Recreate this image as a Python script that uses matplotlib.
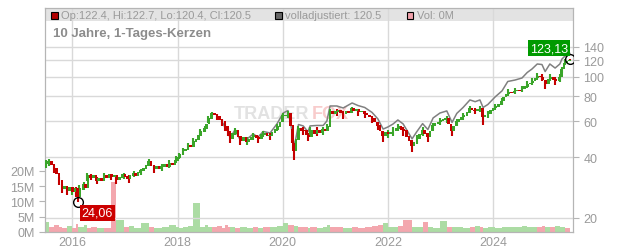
import numpy as np
import matplotlib.pyplot as plt
from matplotlib.patches import Rectangle

plt.rcParams['font.family'] = ['Liberation Sans', 'DejaVu Sans']

# Schlusskurse im Abstand von ca. 2,5 Wochen (ab 2015.50, Schritt 0.05 Jahre)
t0, step = 2015.50, 0.05
closes = [37.0, 38.0, 36.5, 34.9, 33.0, 30.5, 27.8, 28.5, 27.2, 27.9,
          27.0, 27.8, 25.3, 27.6, 28.9, 28.2, 32.3, 31.5, 32.2, 30.6,
          31.2, 30.6, 32.3, 31.5, 32.4, 31.9, 32.2, 30.9, 31.6, 32.5,
          31.8, 31.2, 32.2, 33.0, 32.4, 33.2, 34.0, 34.8, 36.0, 37.8,
          36.2, 34.9, 35.6, 34.8, 35.7, 36.4, 35.9, 37.0, 36.5, 38.4,
          39.6, 40.8, 42.9, 43.6, 45.4, 45.0, 47.5, 48.6, 51.0, 53.2,
          55.0, 58.0, 61.7, 65.3, 64.5, 63.1, 61.0, 59.6, 56.3, 53.5,
          49.1, 52.0, 53.8, 50.5, 48.0, 49.6, 47.6, 48.8, 50.0, 50.8,
          49.8, 49.1, 51.4, 52.0, 50.6, 50.8, 52.8, 54.5, 56.3, 59.5,
          63.8, 64.2, 65.3, 57.0, 43.0, 48.5, 55.0, 54.0, 53.8, 51.2,
          50.3, 53.8, 52.2, 53.8, 52.6, 54.4, 53.8, 56.3, 66.8, 65.4,
          66.8, 67.6, 66.0, 65.3, 67.2, 66.0, 69.1, 67.6, 68.4, 66.8,
          67.4, 65.3, 64.4, 63.0, 61.7, 59.5, 57.0, 53.5, 50.8, 52.6,
          52.0, 53.0, 53.8, 55.2, 56.3, 54.6, 53.8, 50.5, 48.0, 45.4,
          47.0, 49.1, 51.6, 53.8, 52.0, 50.3, 53.5, 57.0, 58.2, 59.5,
          60.3, 61.0, 61.7, 58.0, 54.0, 56.8, 59.6, 61.0, 63.0, 63.8,
          66.0, 69.1, 68.0, 67.8, 68.6, 69.1, 63.1, 64.4, 65.3, 67.6,
          69.5, 70.7, 72.5, 75.7, 78.8, 82.0, 83.9, 83.0, 84.8, 85.6,
          84.9, 86.8, 89.0, 91.9, 93.0, 95.0, 97.8, 100.6, 99.5, 96.0,
          91.9, 97.0, 99.5, 96.5, 95.0, 99.5, 108.9, 116.0, 119.0, 120.5]
first_open = 36.0

# Tages-Spannen (Dochte) an einzelnen Stichtagen
wick_dates = [2015.50, 2015.56, 2015.65, 2015.75, 2015.80, 2015.90, 2015.99, 2016.07, 2016.11, 2016.13,
              2016.22, 2016.28, 2016.36, 2016.47, 2016.60, 2016.74, 2016.83, 2016.98, 2017.08, 2017.17,
              2017.31, 2017.46, 2017.55, 2017.71, 2017.84, 2017.97, 2018.03, 2018.10, 2018.20, 2018.29,
              2018.43, 2018.52, 2018.58, 2018.66, 2018.75, 2018.85, 2018.90, 2018.96, 2019.00, 2019.09,
              2019.19, 2019.32, 2019.44, 2019.53, 2019.63, 2019.76, 2019.89, 2020.01, 2020.10, 2020.18,
              2020.22, 2020.30, 2020.39, 2020.48, 2020.52, 2020.65, 2020.77, 2020.84, 2020.90, 2021.03,
              2021.15, 2021.32, 2021.43, 2021.56, 2021.70, 2021.81, 2021.91, 2022.00, 2022.10, 2022.19,
              2022.29, 2022.46, 2022.55, 2022.66, 2022.76, 2022.86, 2022.99, 2023.12, 2023.22, 2023.31,
              2023.43, 2023.56, 2023.66, 2023.75, 2023.81, 2023.90, 2024.04, 2024.17, 2024.28, 2024.42,
              2024.55, 2024.65, 2024.74, 2024.84, 2024.93, 2024.99, 2025.08, 2025.18, 2025.27, 2025.31,
              2025.37, 2025.46]
low = [35.5, 36.0, 33.5, 29.0, 26.5, 26.0, 26.0, 25.5, 24.06, 26.5,
       27.5, 30.5, 30.8, 29.5, 31.0, 30.8, 29.5, 31.0, 29.8, 31.8,
       32.5, 36.0, 33.5, 34.2, 35.5, 37.5, 39.0, 41.0, 43.5, 45.5,
       51.0, 53.0, 59.0, 63.0, 61.0, 57.0, 54.0, 51.0, 47.0, 51.5,
       46.0, 46.0, 48.5, 47.0, 50.0, 48.5, 54.0, 61.0, 62.5, 47.0,
       38.5, 52.0, 51.5, 48.0, 51.5, 51.0, 51.5, 53.5, 63.5, 64.0,
       62.0, 66.0, 64.0, 62.5, 59.0, 54.5, 47.5, 49.5, 51.0, 53.5,
       51.0, 42.4, 46.5, 51.0, 47.5, 54.0, 57.5, 59.0, 51.0, 57.0,
       61.0, 66.5, 65.0, 66.5, 57.5, 62.5, 68.0, 72.5, 80.5, 81.5,
       83.5, 88.0, 91.0, 96.5, 95.0, 87.0, 95.0, 90.5, 94.0, 104.0,
       114.0, 120.4]
high = [38.5, 39.0, 36.5, 32.0, 29.5, 28.5, 28.6, 28.3, 27.0, 29.0,
        30.0, 33.5, 33.0, 31.8, 33.5, 33.0, 32.5, 33.5, 32.5, 34.2,
        35.0, 39.0, 36.5, 37.0, 38.5, 40.5, 42.0, 44.5, 47.0, 49.5,
        55.0, 57.0, 63.5, 67.0, 65.0, 61.5, 58.5, 55.5, 51.5, 55.5,
        50.0, 50.0, 52.5, 51.0, 54.0, 52.5, 58.0, 66.0, 67.5, 55.0,
        47.0, 57.0, 56.0, 52.5, 56.5, 56.0, 56.0, 58.5, 69.0, 69.0,
        67.5, 71.0, 69.0, 67.5, 64.0, 59.5, 53.5, 54.5, 56.0, 58.5,
        56.0, 48.0, 51.5, 56.0, 52.5, 59.0, 62.5, 64.0, 57.0, 62.0,
        66.0, 71.5, 70.0, 71.5, 65.5, 67.5, 73.0, 78.0, 86.5, 87.5,
        89.5, 95.0, 98.5, 103.5, 102.5, 95.0, 102.5, 99.0, 103.0, 112.0,
        122.7, 122.7]
wick_up = [1, 1, 0, 0, 0, 0, 1, 0, 0, 1,
           1, 1, 0, 0, 1, 0, 0, 1, 0, 1,
           1, 1, 0, 1, 1, 1, 1, 1, 1, 1,
           1, 1, 1, 1, 0, 0, 0, 0, 0, 1,
           0, 1, 1, 0, 1, 0, 1, 1, 1, 0,
           0, 1, 0, 0, 1, 0, 1, 1, 1, 0,
           0, 1, 0, 0, 0, 0, 0, 1, 1, 1,
           0, 0, 1, 1, 0, 1, 1, 1, 0, 1,
           1, 1, 0, 1, 0, 1, 1, 1, 1, 1,
           1, 1, 1, 1, 0, 0, 1, 0, 1, 1,
           1, 0]

# volladjustierte Linie ab Ende 2018 (Stichtage ab 2018.85)
adj = [59.6, 56.3, 53.5, 49.6, 54.4, 48.8, 49.1, 52.0, 50.2, 53.5,
       52.6, 58.3, 66.0, 67.9, 53.2, 45.0, 57.9, 57.0, 53.3, 57.0,
       57.3, 57.3, 60.3, 71.5, 71.5, 69.9, 74.0, 71.9, 70.3, 66.4,
       61.7, 55.0, 56.3, 58.3, 61.0, 58.3, 49.2, 53.4, 58.5, 54.7,
       62.4, 66.0, 67.6, 59.3, 65.7, 70.3, 76.6, 75.1, 76.6, 70.3,
       72.7, 79.3, 84.9, 94.5, 96.1, 98.3, 104.7, 108.9, 115.3, 114.6,
       105.8, 115.3, 110.1, 115.3, 122.0, 126.4, 130.0]

# Volumen in Mio. (je Stichtag)
vol = [1.5, 3.2, 1.8, 2.2, 1.6, 1.4, 2.0, 1.2, 2.6, 1.8,
       1.5, 2.4, 1.3, 1.6, 1.2, 1.4, 16.5, 3.8, 1.6, 2.0,
       1.4, 2.8, 1.5, 1.3, 1.8, 2.2, 1.6, 1.2, 1.5, 1.9,
       9.5, 1.6, 2.4, 1.8, 1.5, 1.9, 1.4, 2.2, 1.6, 1.8,
       1.3, 1.5, 1.2, 1.6, 1.4, 1.8, 1.5, 2.0, 2.8, 2.4,
       2.2, 1.9, 1.6, 1.5, 1.4, 1.8, 1.3, 1.6, 2.2, 1.7,
       1.5, 1.4, 1.6, 1.3, 1.5, 2.0, 2.4, 3.0, 1.8, 1.6,
       1.9, 3.8, 1.7, 1.5, 3.2, 1.6, 1.4, 3.6, 1.8, 1.5,
       1.6, 1.4, 1.7, 2.0, 1.5, 1.3, 1.8, 1.4, 1.6, 1.5,
       1.7, 1.9, 1.5, 1.8, 1.6, 2.0, 1.7, 1.5, 2.1, 1.6,
       1.8, 1.4]

price_ticks = [20, 40, 60, 80, 100, 120, 140]
vol_ticks = [0, 5, 10, 15, 20]
year_ticks = [2016, 2018, 2020, 2022, 2024]

closes = np.array(closes)
cdates = t0 + step * np.arange(len(closes))
opens = np.array([first_open] + list(closes[:-1]))
up = closes >= opens

wick_dates = np.array(wick_dates)
wick_up = np.array(wick_up, dtype=bool)
vleft = np.array([2015.48] + list(wick_dates[:-1]))
vspan = wick_dates - vleft

fig = plt.figure(figsize=(6.32, 2.53), dpi=100)
ax = fig.add_axes([45 / 632, 20 / 253, 528 / 632, 224 / 253])
ax2 = ax.twinx()

grey_txt = '#9a9a9a'
grid_c = '#d9d9d9'
red, green = '#c40000', '#3aa52a'

# Volumen (links)
vcol = np.where(wick_up, '#acdca4', '#f3a7ae')
ax.bar(vleft, vol, width=vspan, align='edge', color=vcol, zorder=2)
ax.set_ylim(0, 73.4)
ax.set_xlim(2015.48, 2025.52)
ax.set_yticks(vol_ticks)
ax.set_yticklabels([f'{v}M' for v in vol_ticks])
ax.set_xticks(year_ticks)
for x in year_ticks:
    ax.axvline(x, color=grid_c, lw=1, zorder=1)
ax.add_patch(Rectangle((0, (233 - 22) / 224), 1, 13 / 224, transform=ax.transAxes,
                       facecolor='#e3e3e3', edgecolor='none', zorder=0.5))
ax.text(0.500, 0.531, 'TRADER', transform=ax.transAxes, fontsize=13, fontweight='bold',
        color='#e2e2e2', ha='right', va='center', zorder=0.6)
ax.text(0.505, 0.531, 'FOX', transform=ax.transAxes, fontsize=13, fontweight='bold',
        color='#f8cccc', ha='left', va='center', zorder=0.6)

# Kurse (rechts, logarithmisch)
ax2.set_yscale('log')
ax2.set_ylim(17.05, 218)
ax2.set_yticks(price_ticks)
ax2.set_yticklabels([str(p) for p in price_ticks])
ax2.yaxis.set_minor_locator(plt.NullLocator())
ax2.set_axisbelow(True)
ax2.grid(axis='y', color=grid_c, lw=1)

ax2.plot(wick_dates[35:], adj, color='#808080', lw=1.1, zorder=2)
ax2.vlines(wick_dates, low, high, colors=np.where(wick_up, green, red), lw=1.5, zorder=3)
ccol = np.where(up, green, red)
ax2.bar(cdates, np.abs(closes - opens) + 0.4, bottom=np.minimum(closes, opens), width=0.048,
        color=ccol, zorder=4)

# Markierungen Tief / letzter Kurs
i_lo = int(np.argmin(low))
ax2.plot(wick_dates[i_lo], low[i_lo], 'o', mfc='none', mec='black', ms=7, mew=1, zorder=5)
ax2.annotate('24,06', xy=(wick_dates[i_lo], low[i_lo]), xytext=(19, -11), textcoords='offset pixels',
             ha='center', va='center', color='white', fontsize=9,
             bbox=dict(boxstyle='square,pad=0.15', fc='#cc0000', ec='none'), zorder=6)
ax2.plot(wick_dates[-1], 122, 'o', mfc='none', mec='black', ms=7, mew=1, zorder=5)
ax2.annotate('123,13', xy=(wick_dates[-1], 122), xytext=(-21, 11), textcoords='offset pixels',
             ha='center', va='center', color='white', fontsize=9,
             bbox=dict(boxstyle='square,pad=0.15', fc='#009a00', ec='none'), zorder=6)

for a in (ax, ax2):
    for s in a.spines.values():
        s.set_color('#b5b5b5')
    a.tick_params(colors='#b5b5b5', labelcolor=grey_txt, labelsize=9, length=4)
ax.tick_params(axis='x', length=0, pad=3)

# Kopfzeile
def legend_box(xpix, color):
    fig.patches.append(Rectangle((xpix / 632, 1 - 19.5 / 253), 7 / 632, 7 / 253,
                                 transform=fig.transFigure, facecolor=color,
                                 edgecolor='black', lw=0.8, zorder=5))

legend_box(50.5, '#b00000')
fig.text(61 / 632, 1 - 16 / 253, 'Op:122.4, Hi:122.7, Lo:120.4, Cl:120.5', fontsize=8,
         color=grey_txt, va='center')
legend_box(274.5, '#666666')
fig.text(285 / 632, 1 - 16 / 253, 'volladjustiert: 120.5', fontsize=8, color=grey_txt, va='center')
legend_box(406.5, '#f0a0aa')
fig.text(417 / 632, 1 - 16 / 253, 'Vol: 0M', fontsize=8, color=grey_txt, va='center')
fig.text(53 / 632, 1 - 34 / 253, '10 Jahre, 1-Tages-Kerzen', fontsize=9.5, fontweight='bold',
         color='#8c8c8c', va='center')

fig.savefig('out.png', dpi=100)
